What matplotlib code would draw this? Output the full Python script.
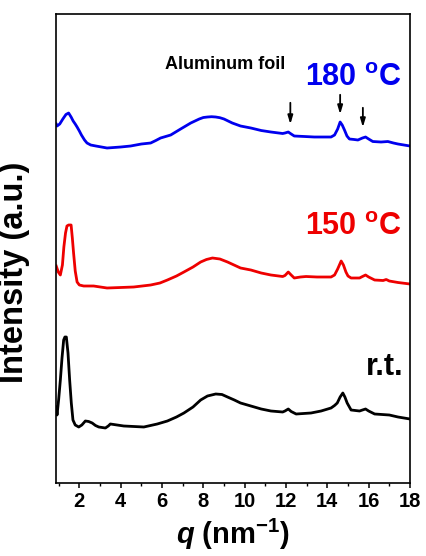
import matplotlib
matplotlib.use("Agg")
import matplotlib.pyplot as plt

plt.rcParams["font.family"] = ["Liberation Sans", "DejaVu Sans"]
plt.rcParams["font.weight"] = "bold"
plt.rcParams["axes.labelweight"] = "bold"
plt.rcParams["mathtext.fontset"] = "custom"
plt.rcParams["mathtext.rm"] = "Liberation Sans:bold"
plt.rcParams["mathtext.bf"] = "Liberation Sans:bold"
plt.rcParams["mathtext.it"] = "Liberation Sans:italic:bold"
plt.rcParams["mathtext.bfit"] = "Liberation Sans:italic:bold"

# --- data (offset-stacked, arbitrary units) ---
q_180 = [0.88, 0.92, 1.05, 1.2, 1.35, 1.48, 1.6, 1.7, 1.8, 1.89, 2.0, 2.1,
         2.25, 2.37, 2.55, 2.8, 3.34, 4.0, 4.48, 5.0, 5.45, 5.7, 5.93, 6.42,
         6.9, 7.39, 7.8, 8.0, 8.2, 8.4, 8.6, 8.8, 9.0, 9.4, 9.8,
         10.3, 10.8, 11.27, 11.84, 11.95, 12.11, 12.25, 12.4, 12.9, 13.37,
         14.18, 14.35, 14.5, 14.62, 14.72, 14.83, 14.95, 15.07, 15.3, 15.48,
         15.7, 15.85, 16.0, 16.2, 16.6, 16.93, 17.2, 17.42, 18.0]
i_180 = [359, 357, 359, 364, 368.5, 370, 366, 362, 359, 356, 352, 348,
         343, 340, 338, 337, 335, 336, 337, 339, 340, 342.5, 345, 348,
         354, 360, 364, 365.5, 366, 366.3, 366, 365.3, 364, 360, 357,
         355, 352.5, 351, 349.5, 350, 351, 349, 347, 346.5, 346,
         346, 348, 354, 361, 358, 353, 347, 344, 343.5, 343,
         345, 346, 344, 341.5, 341, 341.5, 340, 339, 337]

q_150 = [0.88, 0.98, 1.08, 1.18, 1.25, 1.33, 1.4, 1.48, 1.6, 1.66, 1.72,
         1.8, 1.89, 2.0, 2.21, 2.69, 3.34, 4.0, 4.63, 5.45, 5.9, 6.26, 6.7,
         7.06, 7.5, 7.87, 8.15, 8.44, 8.8, 9.17, 9.8, 10.3, 10.8, 11.27,
         11.84, 11.95, 12.11, 12.25, 12.4, 12.7, 12.97, 13.5, 14.18, 14.35,
         14.5, 14.67, 14.78, 14.9, 15.0, 15.15, 15.56, 15.7, 15.85, 16.0,
         16.29, 16.7, 16.85, 17.0, 17.42, 18.0]
i_150 = [217, 211, 208, 218, 236, 250, 257, 258, 258, 245, 230,
         212, 201, 198, 197, 197, 195, 195.5, 196, 198, 200, 203, 207,
         211, 216, 221, 223.5, 225, 224, 221, 215, 213, 210, 208,
         206.5, 207.5, 211, 208, 205, 206, 206.5, 206, 206, 208,
         214, 222, 218, 211, 207, 205, 205, 206.5, 208, 206,
         203, 202.5, 203.5, 202, 200.5, 199]

q_rt = [0.88, 0.92, 1.0, 1.08, 1.16, 1.24, 1.3, 1.37, 1.45, 1.53, 1.61,
        1.69, 1.8, 1.97, 2.12, 2.29, 2.45, 2.62, 2.78, 2.94, 3.26, 3.4, 3.5,
        4.15, 5.12, 5.77, 6.26, 6.7, 7.06, 7.5, 7.87, 8.2, 8.6, 8.9, 9.17,
        9.5, 9.8, 10.3, 10.8, 11.27, 11.84, 11.95, 12.11, 12.25, 12.49,
        13.21, 13.7, 14.18, 14.35, 14.48, 14.62, 14.75, 14.85, 14.96,
        15.15, 15.56, 15.7, 15.85, 16.0, 16.29, 17.0, 17.42, 18.0]
i_rt = [76, 68, 84, 103, 125, 143, 146, 146, 130, 103, 80,
        63, 58, 56, 58, 62, 61.5, 60, 57.5, 56, 55, 57, 59,
        57, 56, 59, 62, 66, 70, 76, 83, 87, 89, 88.5, 86,
        83, 80, 77, 74, 72, 71, 72, 74, 71.5, 69,
        70, 72, 75, 77.5, 80, 86, 90, 86, 80,
        73, 72, 73, 74, 72, 69, 68, 66, 64]

# aluminum foil reflections marked with arrows: (q, tail, head)
foil_q = [12.21, 14.62, 15.72]
foil_top = [383, 391, 378]
foil_tip = [356, 366, 353]

fig = plt.figure(figsize=(4.26, 5.56), dpi=100)
ax = fig.add_axes([0.131, 0.1313, 0.8314, 0.8435])

ax.plot(q_180, i_180, color="#0000ee", lw=2.0, solid_joinstyle="round")
ax.plot(q_150, i_150, color="#ee0000", lw=2.0, solid_joinstyle="round")
ax.plot(q_rt, i_rt, color="black", lw=2.0, solid_joinstyle="round")

for q, y0, y1 in zip(foil_q, foil_top, foil_tip):
    ax.annotate("", xy=(q, y1), xytext=(q, y0),
                arrowprops=dict(arrowstyle="-|>,head_length=0.5,head_width=0.15",
                                color="black", lw=1.3))

ax.text(9.06, 419, "Aluminum foil", fontsize=13, ha="center", va="center")
ax.text(17.58, 397, r"180 $^{\mathbf{o}}$C", fontsize=22, color="#0000ee",
        ha="right", va="baseline")
ax.text(17.58, 248, r"150 $^{\mathbf{o}}$C", fontsize=22, color="#ee0000",
        ha="right", va="baseline")
ax.text(17.68, 108, "r.t.", fontsize=22, ha="right", va="baseline")

ax.set_xlim(0.86, 18)
ax.set_ylim(0, 469)
ax.set_xticks(range(2, 19, 2))
ax.set_xticks(range(1, 19, 1), minor=True)
ax.set_yticks([])
ax.tick_params(axis="x", which="major", length=3.5, width=1.1,
               labelsize=14.5, pad=3)
ax.tick_params(axis="x", which="minor", length=2, width=1.0)
for lab in ax.get_xticklabels():
    lab.set_fontweight("bold")
for s in ax.spines.values():
    s.set_linewidth(1.2)

ax.set_xlabel(r"$\mathbfit{q}$ (nm$^{\mathbf{-1}}$)", fontsize=21, labelpad=4)
ax.set_ylabel("Intensity (a.u.)", fontsize=23.5)
ax.yaxis.set_label_coords(-0.074, 0.45)

fig.savefig("out.png", dpi=100)
